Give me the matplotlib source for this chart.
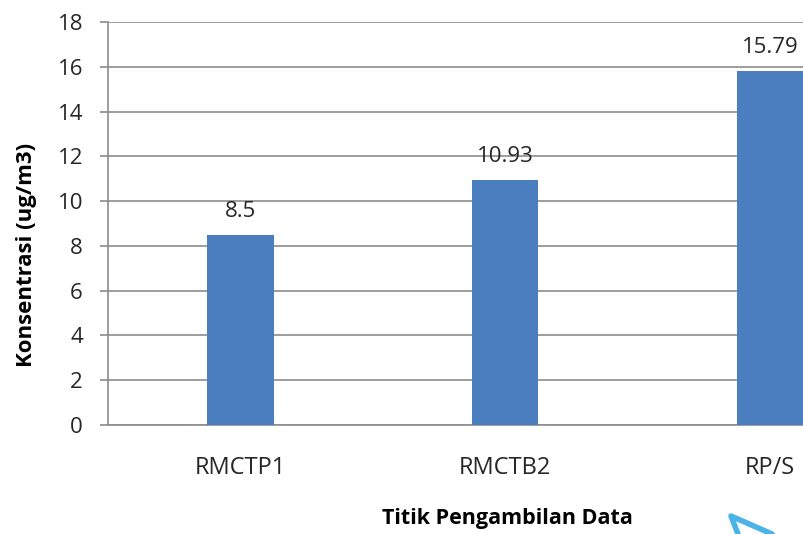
import matplotlib
matplotlib.use("Agg")
import matplotlib.pyplot as plt
from matplotlib.lines import Line2D

# Concentration at each sampling point
categories = ["RMCTP1", "RMCTB2", "RP/S"]
values = [8.5, 10.93, 15.79]
value_labels = ["8.5", "10.93", "15.79"]
y_ticks = [0, 2, 4, 6, 8, 10, 12, 14, 16, 18]

plt.rcParams["font.family"] = ["Open Sans", "DejaVu Sans"]

W, H = 804, 534
fig = plt.figure(figsize=(W / 100, H / 100), dpi=100)
ax_left, ax_right, ax_top, ax_bottom = 108, 804, 22, 425
ax = fig.add_axes([ax_left / W, (H - ax_bottom) / H,
                   (ax_right - ax_left) / W, (ax_bottom - ax_top) / H])

bar_color = "#4A7EBF"
grid_color = "#8C8C8C"
text_color = "#262626"

x = list(range(len(categories)))
ax.bar(x, values, width=0.25, color=bar_color, zorder=3)

for xi, v, lab in zip(x, values, value_labels):
    ax.annotate(lab, (xi, v), xytext=(0, 17), textcoords="offset points",
                ha="center", va="center", fontsize=16, color=text_color,
                zorder=4)

ax.set_ylim(0, 18)
ax.set_xlim(-0.5, 2.128)
ax.set_yticks(y_ticks)
ax.set_yticklabels([str(t) for t in y_ticks])
ax.set_xticks(x)
ax.set_xticklabels(categories)

ax.yaxis.grid(True, color=grid_color, linewidth=1.2, zorder=0)
ax.set_axisbelow(True)

for side in ("top", "right"):
    ax.spines[side].set_visible(False)
for side in ("left", "bottom"):
    ax.spines[side].set_color(grid_color)
    ax.spines[side].set_linewidth(1.2)

ax.tick_params(axis="y", length=6, width=1.2, color=grid_color, pad=12,
               labelsize=16, labelcolor=text_color)
ax.tick_params(axis="x", length=0, pad=22, labelsize=17,
               labelcolor=text_color)

ax.set_ylabel("Konsentrasi (ug/m3)", fontsize=16, fontweight="bold",
              color="black")
ax.yaxis.set_label_coords((37 - ax_left) / (ax_right - ax_left),
                          (ax_bottom - 255) / (ax_bottom - ax_top))
ax.set_xlabel("Titik Pengambilan Data", fontsize=15.5, fontweight="bold",
              color="black")
ax.xaxis.set_label_coords((507 - ax_left) / (ax_right - ax_left),
                          (ax_bottom - 508) / (ax_bottom - ax_top))

# Blue pen stroke in the lower right corner
stroke = Line2D([738 / W, 731 / W, 772 / W],
                [0 / H, (H - 516) / H, 0 / H],
                transform=fig.transFigure, color="#4AB3E8", linewidth=4,
                solid_capstyle="round", solid_joinstyle="round")
fig.add_artist(stroke)

fig.savefig("out.png", dpi=100, facecolor="white")
